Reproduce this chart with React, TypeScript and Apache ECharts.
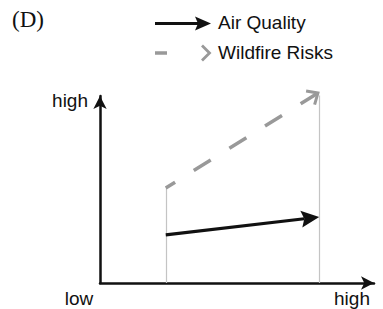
import React, { useEffect, useRef } from "react";
import * as echarts from "echarts";

const panelLabel = "(D)";
const seriesNames = ["Air Quality", "Wildfire Risks"];
const xAxisLabels = ["low", "high"];
const yAxisLabels = ["high"];
const scenarioX = [2.4, 8.0];
const airQuality = [2.57, 3.53];
const wildfireRisks = [5.08, 10.2];

export default function App() {
  const ref = useRef<HTMLDivElement>(null);
  useEffect(() => {
    if (!ref.current) return;
    const chart = echarts.init(ref.current, undefined, { renderer: "svg" });
    const axisBase = {
      type: "value" as const,
      min: 0,
      max: 10,
      axisLine: {
        show: true,
        onZero: false,
        symbol: ["none", "arrow"],
        symbolSize: [10, 13],
        lineStyle: { color: "#111", width: 2.5 },
      },
      axisTick: { show: false },
      axisLabel: { show: false },
      splitLine: { show: false },
    };
    const sans = "'Liberation Sans', Arial, sans-serif";

    const arrowRender = (kind: "solid" | "dashed") => (params: any, api: any) => {
      const p0 = api.coord([api.value(0), api.value(1)]);
      const p1 = api.coord([api.value(2), api.value(3)]);
      const dx = p1[0] - p0[0];
      const dy = p1[1] - p0[1];
      const len = Math.sqrt(dx * dx + dy * dy);
      const ux = dx / len;
      const uy = dy / len;
      const nx = -uy;
      const ny = ux;
      if (kind === "solid") {
        const headLen = 18;
        const headW = 8.5;
        const base = [p1[0] - ux * headLen, p1[1] - uy * headLen];
        const notch = [p1[0] - ux * (headLen - 3), p1[1] - uy * (headLen - 3)];
        return {
          type: "group",
          children: [
            {
              type: "line",
              shape: { x1: p0[0], y1: p0[1], x2: notch[0], y2: notch[1] },
              style: { stroke: "#111", lineWidth: 3.2 },
            },
            {
              type: "polygon",
              shape: {
                points: [
                  [p1[0], p1[1]],
                  [base[0] + nx * headW, base[1] + ny * headW],
                  notch,
                  [base[0] - nx * headW, base[1] - ny * headW],
                ],
              },
              style: { fill: "#111" },
            },
          ],
        };
      }
      const dash = 20;
      const gap = 22;
      const period = dash + gap;
      const tipInset = 1.5;
      const L = len - tipInset;
      const off = (period - ((L - dash) % period)) % period;
      const tip = [p0[0] + ux * L, p0[1] + uy * L];
      const armLen = 12;
      const ang = (42 * Math.PI) / 180;
      const c = Math.cos(ang);
      const s = Math.sin(ang);
      const a1 = [tip[0] - armLen * (ux * c - nx * s), tip[1] - armLen * (uy * c - ny * s)];
      const a2 = [tip[0] - armLen * (ux * c + nx * s), tip[1] - armLen * (uy * c + ny * s)];
      return {
        type: "group",
        children: [
          {
            type: "line",
            shape: { x1: p0[0], y1: p0[1], x2: tip[0], y2: tip[1] },
            style: { stroke: "#999", lineWidth: 3.5, lineDash: [dash, gap], lineDashOffset: off },
          },
          {
            type: "polyline",
            shape: { points: [a1, tip, a2] },
            style: { stroke: "#999", lineWidth: 3, fill: null },
          },
        ],
      };
    };

    chart.setOption({
      animation: false,
      backgroundColor: "#fff",
      grid: { left: 100, right: 9, top: 96, bottom: 26 },
      xAxis: axisBase,
      yAxis: axisBase,
      series: [
        {
          type: "lines",
          coordinateSystem: "cartesian2d",
          silent: true,
          symbol: "none",
          lineStyle: { color: "#c4c4c4", width: 1.2, opacity: 1 },
          data: scenarioX.map((x, i) => ({
            coords: [
              [x, 0],
              [x, Math.max(airQuality[i], wildfireRisks[i])],
            ],
          })),
        },
        {
          name: seriesNames[1],
          type: "custom",
          silent: true,
          clip: false,
          renderItem: arrowRender("dashed"),
          data: [[scenarioX[0], wildfireRisks[0], scenarioX[1], wildfireRisks[1]]],
        },
        {
          name: seriesNames[0],
          type: "custom",
          silent: true,
          clip: false,
          renderItem: arrowRender("solid"),
          data: [[scenarioX[0], airQuality[0], scenarioX[1], airQuality[1]]],
        },
      ],
      graphic: [
        {
          type: "text",
          left: 12,
          top: 8,
          style: { text: panelLabel, font: "23px 'Liberation Serif', serif", fill: "#111" },
        },
        { type: "line", shape: { x1: 155, y1: 23.5, x2: 199, y2: 23.5 }, style: { stroke: "#111", lineWidth: 3 } },
        {
          type: "polygon",
          shape: { points: [[195, 16.5], [211, 23.5], [195, 30.5], [198, 23.5]] },
          style: { fill: "#111" },
        },
        { type: "line", shape: { x1: 155, y1: 53, x2: 167, y2: 53 }, style: { stroke: "#999", lineWidth: 3.5 } },
        {
          type: "polyline",
          shape: { points: [[202, 45.5], [209.5, 53], [202, 60.5]] },
          style: { stroke: "#999", lineWidth: 2.8, fill: null },
        },
        {
          type: "text",
          x: 218,
          y: 22.5,
          style: { text: seriesNames[0], font: `19px ${sans}`, fill: "#111", textVerticalAlign: "middle" },
        },
        {
          type: "text",
          x: 218,
          y: 52.5,
          style: { text: seriesNames[1], font: `19px ${sans}`, fill: "#111", textVerticalAlign: "middle" },
        },
        {
          type: "text",
          x: 88,
          y: 100,
          style: { text: yAxisLabels[0], font: `19px ${sans}`, fill: "#111", textAlign: "right", textVerticalAlign: "middle" },
        },
        {
          type: "text",
          x: 79,
          y: 298,
          style: { text: xAxisLabels[0], font: `19px ${sans}`, fill: "#111", textAlign: "center", textVerticalAlign: "middle" },
        },
        {
          type: "text",
          x: 352,
          y: 298,
          style: { text: xAxisLabels[1], font: `19px ${sans}`, fill: "#111", textAlign: "center", textVerticalAlign: "middle" },
        },
      ],
    });
    return () => chart.dispose();
  }, []);
  return (
    <div
      ref={ref}
      style={{ position: "fixed", left: 0, top: 0, width: 383, height: 309, background: "#fff" }}
    />
  );
}
